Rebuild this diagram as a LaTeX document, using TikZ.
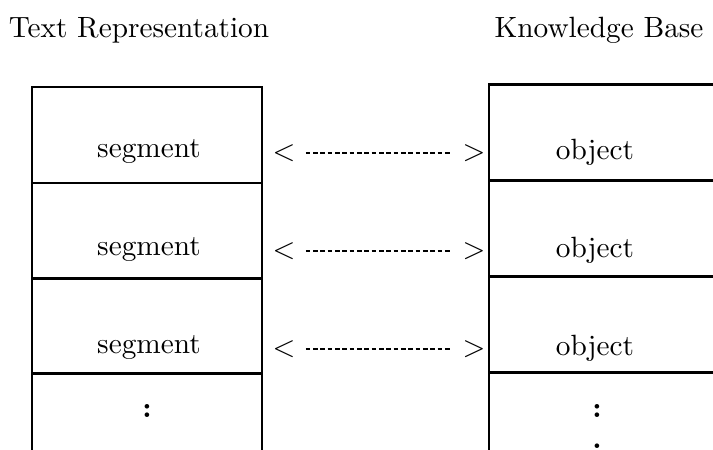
\documentclass[tikz,border=0pt]{standalone}
\usepackage{tikz}
\usetikzlibrary{positioning}

\begin{document}
\begin{tikzpicture}[x=0.012cm, y=-0.012cm,
    cell/.style={draw, line width=0.95pt, minimum width=2.76cm, minimum height=1.152cm, inner sep=0pt},
    link/.style={line width=0.7pt, dash pattern=on 1.6pt off 0.9pt}]
    \useasboundingbox (0,0) rectangle (713,450);
    \clip (0,0) rectangle (713,450);

    % Headings
    \node (texthead) at (139,30) {Text Representation};
    \node (kbhead) at (599,30) {Knowledge Base};

    % Text Representation column
    \node[cell] (ts1) at (147,135) {};
    \node[cell] (ts2) at (147,231) {};
    \node[cell] (ts3) at (147,326) {};
    \node[cell] (ts4) at (147,421) {};
    \node (seg1) at (149,152) {segment};
    \node (seg2) at (149,250) {segment};
    \node (seg3) at (149,348) {segment};
    \node (tdots) at (147,411) {\bfseries :};

    % Knowledge Base column
    \node[cell] (kb1) at (604,132.5) {};
    \node[cell] (kb2) at (604,229) {};
    \node[cell] (kb3) at (604,324.5) {};
    \node[cell] (kb4) at (604,420) {};
    \node (obj1) at (595,152) {object};
    \node (obj2) at (595,250) {object};
    \node (obj3) at (595,348) {object};
    \node (kdots) at (597,411) {\bfseries :};
    \node (kdot) at (597,446) {\bfseries .};

    % Links between segments and objects
    \node (lt1) at (284,153) {$<$};
    \node (gt1) at (474,153) {$>$};
    \node (lt2) at (284,251) {$<$};
    \node (gt2) at (474,251) {$>$};
    \node (lt3) at (284,349) {$<$};
    \node (gt3) at (474,349) {$>$};
    \draw[link] (lt1) -- (gt1);
    \draw[link] (lt2) -- (gt2);
    \draw[link] (lt3) -- (gt3);
\end{tikzpicture}
\end{document}
